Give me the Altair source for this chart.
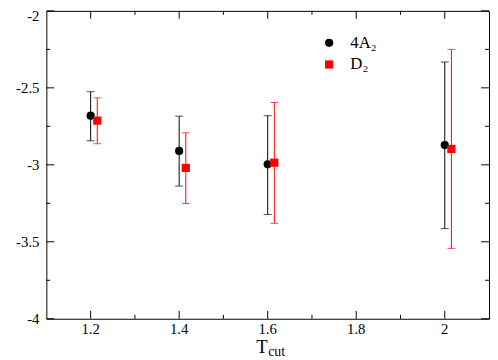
import altair as alt
import pandas as pd

# ---- data ----
SERIES = ["4A₂", "D₂"]
A2_X = [1.2, 1.4, 1.6, 2.0]
A2_Y = [-2.681, -2.910, -2.997, -2.872]
A2_LO = [-2.844, -3.138, -3.323, -3.414]
A2_HI = [-2.525, -2.684, -2.681, -2.332]
D2_X = [1.215, 1.415, 1.615, 2.015]
D2_Y = [-2.713, -3.020, -2.986, -2.897]
D2_LO = [-2.863, -3.251, -3.380, -3.543]
D2_HI = [-2.565, -2.792, -2.595, -2.250]

X_DOMAIN = [1.1, 2.1]
Y_DOMAIN = [-4, -2]
X_MAJOR = [1.2, 1.4, 1.6, 1.8, 2.0]
X_LABELS = ["1.2", "1.4", "1.6", "1.8", "2"]
X_MINOR = [1.3, 1.5, 1.7, 1.9]
Y_MAJOR = [-4, -3.5, -3, -2.5, -2]
Y_LABELS = ["-4", "-3.5", "-3", "-2.5", "-2"]
Y_MINOR = [-3.75, -3.25, -2.75, -2.25]
X_TITLE_MAIN = "T"
X_TITLE_SUB = "cut"
COLORS = ["#000000", "#ff0000"]
SHAPES = ["circle", "square"]

# ---- layout ----
W, H = 450, 313
FONT = "Liberation Serif"
MAJ, MIN = 8, 4

xscale = alt.Scale(domain=X_DOMAIN, nice=False, zero=False)
yscale = alt.Scale(domain=Y_DOMAIN, nice=False, zero=False)


def xenc(f="x"):
    return alt.X(f"{f}:Q", scale=xscale, axis=None)


def yenc(f="y"):
    return alt.Y(f"{f}:Q", scale=yscale, axis=None)


cscale = alt.Scale(domain=SERIES, range=COLORS)
sscale = alt.Scale(domain=SERIES, range=SHAPES)

layers = []
# inward ticks on all four sides
for vals, L in [(X_MAJOR, MAJ), (X_MINOR, MIN)]:
    d = pd.DataFrame({"x": vals})
    layers.append(alt.Chart(d).mark_rule(color="black", strokeWidth=1).encode(
        x=xenc(), y=alt.value(H), y2=alt.value(H - L)))
    layers.append(alt.Chart(d).mark_rule(color="black", strokeWidth=1).encode(
        x=xenc(), y=alt.value(0), y2=alt.value(L)))
for vals, L in [(Y_MAJOR, MAJ), (Y_MINOR, MIN)]:
    d = pd.DataFrame({"y": vals})
    layers.append(alt.Chart(d).mark_rule(color="black", strokeWidth=1).encode(
        y=yenc(), x=alt.value(0), x2=alt.value(L)))
    layers.append(alt.Chart(d).mark_rule(color="black", strokeWidth=1).encode(
        y=yenc(), x=alt.value(W), x2=alt.value(W - L)))

# tick labels (drawn through the scales)
xl = pd.DataFrame({"x": X_MAJOR, "t": X_LABELS})
layers.append(alt.Chart(xl).mark_text(font=FONT, fontSize=15, color="black",
                                      baseline="middle", align="center").encode(
    x=xenc(), y=alt.value(H + 10), text="t:N"))
yl = pd.DataFrame({"y": Y_MAJOR, "t": Y_LABELS})
yl_top = yl[yl["y"] == Y_DOMAIN[1]]
yl_rest = yl[yl["y"] != Y_DOMAIN[1]]
layers.append(alt.Chart(yl_rest).mark_text(font=FONT, fontSize=15, color="black",
                                           baseline="middle", align="right").encode(
    y=yenc(), x=alt.value(-7), text="t:N"))
layers.append(alt.Chart(yl_top).mark_text(font=FONT, fontSize=15, color="black",
                                          baseline="middle", align="right", dy=5).encode(
    y=yenc(), x=alt.value(-7), text="t:N"))

df = pd.DataFrame({
    "series": [SERIES[0]] * len(A2_X) + [SERIES[1]] * len(D2_X),
    "x": A2_X + D2_X,
    "y": A2_Y + D2_Y,
    "lo": A2_LO + D2_LO,
    "hi": A2_HI + D2_HI,
})

for s, c in zip(SERIES, COLORS):
    sub = df[df["series"] == s]
    layers.append(alt.Chart(sub).mark_rule(strokeWidth=1, color=c).encode(
        x=xenc(), y=yenc("lo"), y2="hi"))
    for f in ["lo", "hi"]:
        layers.append(alt.Chart(sub).mark_tick(orient="horizontal", size=8, thickness=1, color=c).encode(
            x=xenc(), y=yenc(f)))

leg = alt.Legend(title=None, orient="none", legendX=279, legendY=24)
points = alt.Chart(df).mark_point(filled=True, opacity=1, size=70, strokeWidth=0).encode(
    x=xenc(), y=yenc(),
    color=alt.Color("series:N", scale=cscale, legend=leg),
    shape=alt.Shape("series:N", scale=sscale, legend=leg),
)
layers.append(points)

tmain = alt.Chart(pd.DataFrame({"t": [X_TITLE_MAIN]})).mark_text(
    font=FONT, fontSize=19, align="right", baseline="alphabetic", color="black"
).encode(text="t:N", x=alt.value(225), y=alt.value(348))
tsub = alt.Chart(pd.DataFrame({"t": [X_TITLE_SUB]})).mark_text(
    font=FONT, fontSize=14, align="left", baseline="alphabetic", color="black"
).encode(text="t:N", x=alt.value(225.5), y=alt.value(351))
layers += [tmain, tsub]

chart = alt.layer(*layers).properties(
    width=W, height=H,
    autosize=alt.AutoSizeParams(type="none"),
    padding={"left": 39, "top": 0, "right": 1, "bottom": 39},
).configure_view(stroke="black", strokeWidth=1).configure_legend(
    labelFont=FONT, labelFontSize=17, labelColor="black", symbolSize=70,
    symbolStrokeWidth=0, padding=0, rowPadding=4, labelOffset=13,
)

chart.save("out.html", embed_options={"renderer": "svg", "actions": False})
